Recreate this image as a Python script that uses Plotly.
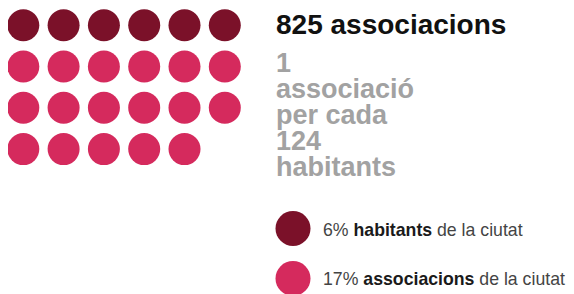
import plotly.graph_objects as go

# ---- data ----
groups = ["habitants", "associacions"]
counts = [6, 17]
percent_labels = ["6%", "17%"]
colors = ["#7B1129", "#D52A5D"]
title_text = "825 associacions"
sub_lines = ["1", "associació", "per cada", "124", "habitants"]
legend_bold = ["habitants", "associacions"]
legend_suffix = "de la ciutat"

# ---- layout params ----
W, H = 574, 294
OFF = 8  # page body margin compensation
ncols = 6
x0, dx = 23.3, 40.3
y0, dy = 25.2, 41.3
dot = 32

FONT = "Liberation Sans, Arial, Helvetica, sans-serif"

fig = go.Figure()

# waffle dots
idx = 0
for g, n, c in zip(groups, counts, colors):
    xs, ys = [], []
    for k in range(n):
        r, col = divmod(idx, ncols)
        xs.append(x0 + col * dx)
        ys.append(y0 + r * dy)
        idx += 1
    fig.add_trace(go.Scatter(x=xs, y=ys, mode="markers",
                             marker=dict(size=dot, color=c, line=dict(width=0)),
                             hoverinfo="skip", showlegend=False, name=g))

# legend dots
lx, ly0, ldy = 293, 228.5, 50
fig.add_trace(go.Scatter(x=[lx] * len(groups), y=[ly0 + i * ldy for i in range(len(groups))],
                         mode="markers", marker=dict(size=35, color=colors, line=dict(width=0)),
                         hoverinfo="skip", showlegend=False))

annotations = []
TS = 28
# title
annotations.append(dict(x=274, y=34 - 0.3465 * TS, text=f"<b>{title_text}</b>",
                        showarrow=False, xanchor="left", yanchor="middle",
                        font=dict(family=FONT, size=TS, color="#111111")))
# sub lines
SS = 27
for i, line in enumerate(sub_lines):
    base = 71.9 + 26.15 * i
    annotations.append(dict(x=274, y=base - 0.3465 * SS, text=f"<b>{line}</b>",
                            showarrow=False, xanchor="left", yanchor="middle",
                            font=dict(family=FONT, size=SS, color="#a2a2a2")))
# legend texts
LS = 17.7
for i, (p, b) in enumerate(zip(percent_labels, legend_bold)):
    base = 235.7 + 49.5 * i
    annotations.append(dict(x=321, y=base - 0.3465 * LS,
                            text=f"{p} <b><span style='color:#1a1a1a'>{b}</span></b> {legend_suffix}",
                            showarrow=False, xanchor="left", yanchor="middle",
                            font=dict(family=FONT, size=LS, color="#444444")))

fig.update_layout(
    width=W, height=H,
    margin=dict(l=0, r=0, t=0, b=0),
    paper_bgcolor="white", plot_bgcolor="white",
    xaxis=dict(range=[OFF, W + OFF], visible=False, fixedrange=True),
    yaxis=dict(range=[H + OFF, OFF], visible=False, fixedrange=True),
    annotations=annotations,
)

fig.write_html("out.html")
